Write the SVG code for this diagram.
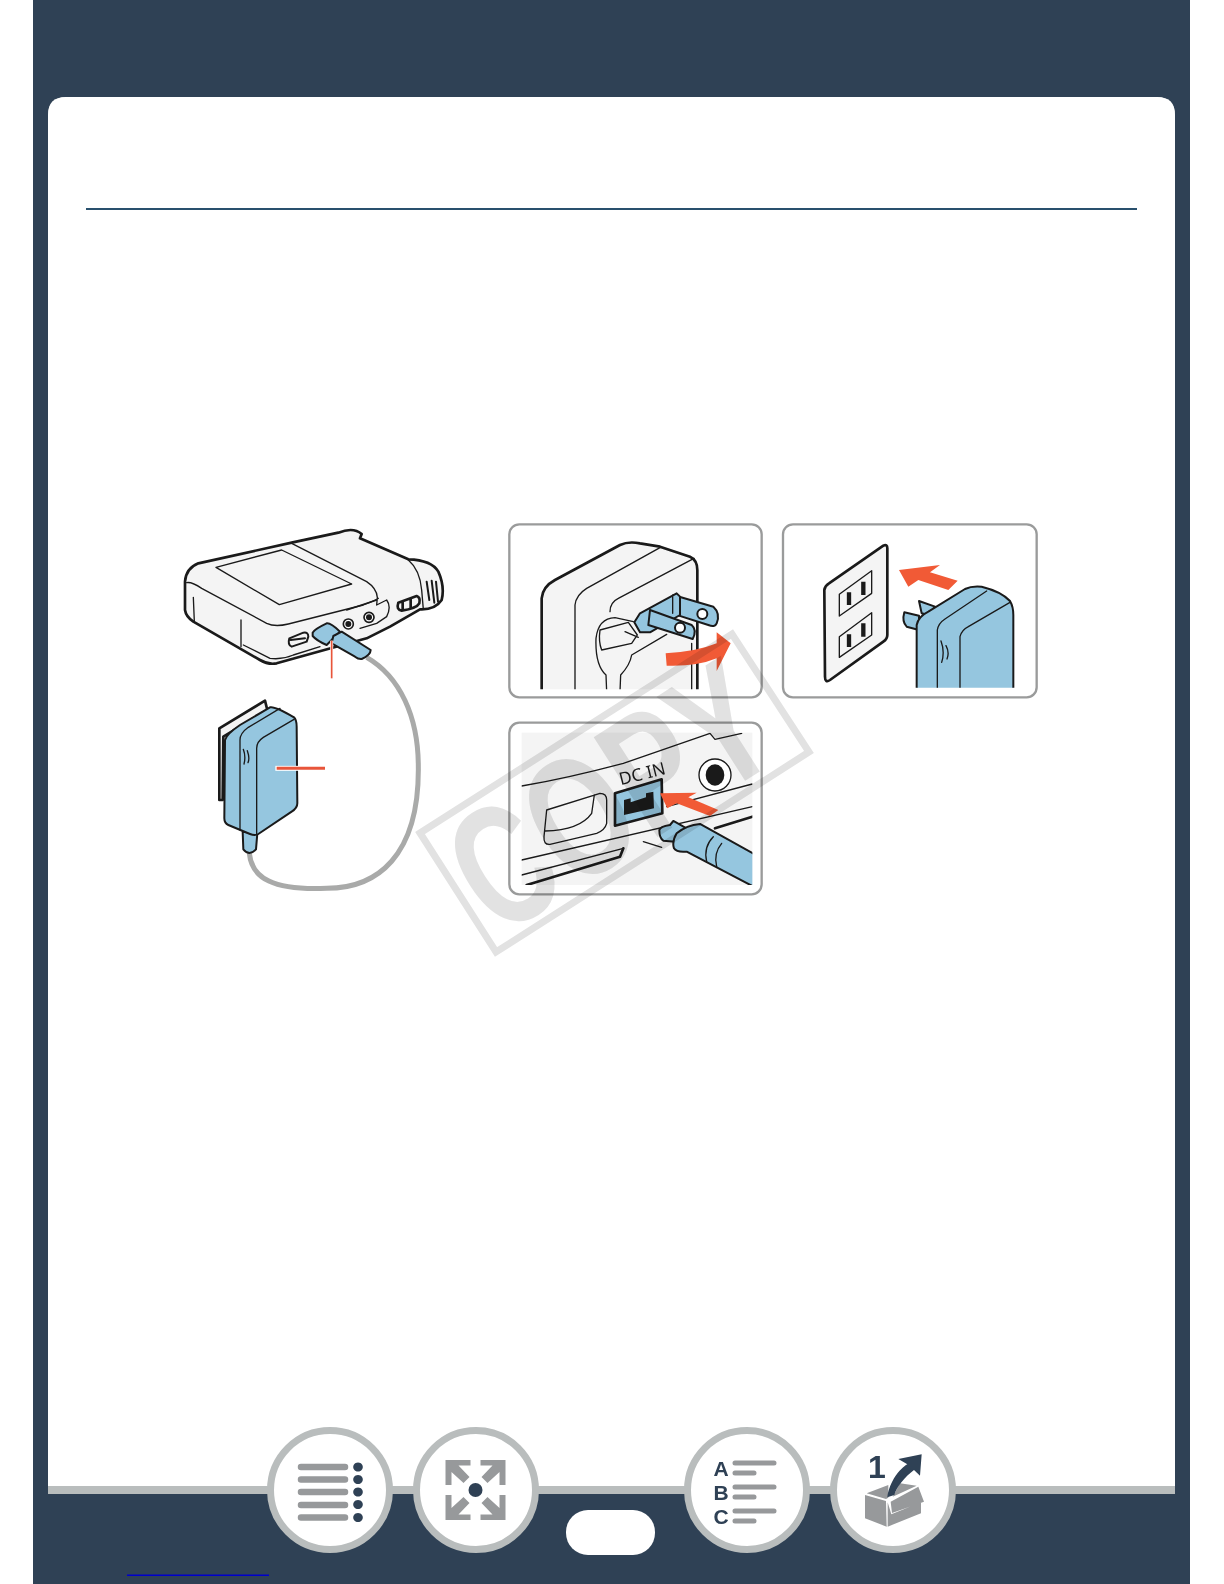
<svg xmlns="http://www.w3.org/2000/svg" width="1224" height="1584" viewBox="0 0 1224 1584">
<style>
.k{fill:none;stroke:#1a1a1a;stroke-linejoin:round;stroke-linecap:round}
.w3{stroke-width:4}.w4{stroke-width:6}.w6{stroke-width:8}
.body{fill:#f4f4f4;stroke:#1a1a1a;stroke-width:8;stroke-linejoin:round}
.blue{fill:#95c6df;stroke:#1a1a1a;stroke-width:6;stroke-linejoin:round}
.or{fill:#f15a36}
.frame{fill:#fff;stroke:#9a9b9b;stroke-width:7}
.ring{fill:#fff;stroke:#b9bdbd;stroke-width:7}
.ig{fill:#97999b}
.dk{fill:#2f4155}
.bar{stroke:#97999b;stroke-linecap:round;fill:none}
.let{font-family:"Liberation Sans",Arial,sans-serif;font-weight:bold;fill:#2f4155}
</style>
<defs>
<clipPath id="c1"><rect x="40" y="40" width="735" height="483"/></clipPath>
<clipPath id="c2"><rect x="40" y="40" width="735" height="478"/></clipPath>
<clipPath id="c3"><rect x="65" y="68" width="692" height="457"/></clipPath>
<polygon id="corner" points="-30,-30 -5,-30 -5,-24.500 -17,-24.500 -6,-13 -12,-7 -24,-18 -24,-5 -30,-5"/>
</defs>
<rect width="1224" height="1584" fill="#fff"/>
<g id="page">
<rect x="33" y="0" width="1157" height="1584" fill="#2f4155"/>
<path d="M48 1494V115Q48 97 66 97H1157Q1175 97 1175 115V1494Z" fill="#b9bdbd"/>
<path d="M48 1486V115Q48 97 66 97H1157Q1175 97 1175 115V1486Z" fill="#fff"/>
<rect x="86" y="208" width="1051" height="2" fill="#29506d"/>
<rect x="127" y="1574.500" width="142" height="1.500" fill="#0000cc"/>
</g>
<g id="camera-illustration" transform="translate(160 510) scale(.33333)">
<path d="M620 442C720 500 775 620 775 770C778 1040 650 1135 500 1135C340 1142 275 1105 268 1030" fill="none" stroke="#a9aaa9" stroke-width="15"/>
<path class="body" d="M75 215Q78 175 115 160L395 98L535 68Q580 50 605 72L600 85L745 148Q815 150 835 185Q855 230 845 270Q825 300 780 298L690 350L620 385L350 460Q325 465 300 450L100 335Q78 320 75 300Z"/>
<path class="k w3" d="M80 218Q95 215 125 235L320 340Q345 352 385 342L610 285Q650 270 655 265M395 100L620 215Q650 235 652 262L650 285L680 270Q695 290 680 320L650 340L600 355"/>
<path class="k w3" d="M168 172L365 120L575 222L358 284ZM100 262L103 335M243 330V410M250 405L330 445Q365 450 400 435L480 410M745 150Q780 180 785 240L790 298M560 300L650 270"/>
<path class="k w4" d="M800 215L808 270M815 212L823 278M828 215L834 275"/>
<path class="k w4" d="M388 385L430 368Q445 365 445 380L440 395L395 410Q382 405 388 385ZM392 390L435 385"/>
<path class="k w6" d="M715 278L770 258Q782 262 778 280Q770 295 725 302Q708 300 715 278ZM728 275V300M752 268V294"/>
<circle cx="565" cy="342" r="15" fill="#fff" stroke="#1a1a1a" stroke-width="5"/><circle cx="565" cy="342" r="9" fill="#1a1a1a"/>
<circle cx="627" cy="322" r="15" fill="#fff" stroke="#1a1a1a" stroke-width="5"/><circle cx="627" cy="322" r="9" fill="#1a1a1a"/>
<path class="blue" d="M458 368Q462 358 500 340Q512 338 540 365L520 385L500 405Q470 392 458 378Z"/>
<path class="blue" d="M520 378L545 365L632 420Q632 435 605 447Q595 448 585 440L515 400Z"/>
<path class="body" d="M178 655L315 572L322 600L190 680L188 870L178 870Z"/>
<path class="blue" d="M248 965L250 1018Q268 1040 288 1018L292 970Z"/>
<path class="blue" d="M195 690Q200 672 240 645L330 592Q345 588 402 622Q410 630 410 650L412 880Q412 895 395 905L295 972Q285 978 270 972L205 945Q193 940 193 925Z"/>
<path class="k w3" d="M240 960V690Q240 670 265 652L360 595M290 972V715Q290 695 310 682L402 628M250 718Q258 740 252 762M262 722Q270 745 264 758"/>
<path d="M515 392V450" stroke="#fff" stroke-width="9"/><path d="M515 392V505" stroke="#e8553a" stroke-width="5"/>
<path d="M346 775H420" stroke="#fff" stroke-width="15"/><path d="M350 775H495" stroke="#e8553a" stroke-width="9"/>
</g>
<g id="panel-1" transform="translate(500 515) scale(.33333)">
<rect class="frame" x="28" y="28" width="757" height="519" rx="30"/>
<g clip-path="url(#c1)">
<path class="body" d="M125 540V250Q128 215 165 195L360 90Q385 78 420 85L480 95L570 125Q592 135 592 165V540Z"/>
<path class="k w3" d="M225 530V270Q228 240 260 220L480 98M330 290Q330 262 355 250L582 130M575 530V385M320 530L318 480Q285 450 288 370Q295 310 345 308L400 320M360 530L362 480Q390 450 395 420L500 358"/>
<path class="k w3" d="M300 345L385 322L412 360L395 385L305 405Q295 380 300 345ZM375 350L415 367"/>
<path class="blue" d="M520 240L640 275Q662 295 650 325Q645 338 625 330L525 298Z"/>
<circle cx="607" cy="297" r="15" fill="#fff" stroke="#1a1a1a" stroke-width="6"/>
<path class="blue" d="M403 322L420 295L530 235L540 245V300L450 352L420 352Z"/>
<path class="blue" d="M450 285L575 330Q592 345 578 372L445 330Z"/>
<circle cx="540" cy="338" r="15" fill="#fff" stroke="#1a1a1a" stroke-width="6"/>
<path class="k w3" d="M518 245V295"/>
</g>
<path class="or" d="M497 415Q590 410 650 385V352L692 385L650 468V430Q590 455 500 452Z"/>
</g>
<g id="panel-2" transform="translate(775 515) scale(.33333)">
<rect class="frame" x="24" y="28" width="761" height="519" rx="30"/>
<path class="body" d="M148 225Q150 212 162 205L325 92Q337 86 337 100V360Q337 372 325 380L165 495Q150 505 150 485Z"/>
<path class="k w3" d="M193 238L290 167V235L193 303ZM193 365L290 293V360L193 427Z"/>
<path d="M222 232V270M265 200V240M222 358V396M265 325V365" stroke="#1a1a1a" stroke-width="13" fill="none"/>
<path class="or" d="M548 197L520 225L430 195L400 215L372 165L495 150L465 172Z"/>
<g clip-path="url(#c2)">
<path class="blue" d="M432 258L480 275L460 300L440 295Z"/>
<path class="blue" d="M388 292L432 302V345L395 335Q380 320 388 292Z"/>
<path class="blue" d="M425 530V330Q430 305 460 290L570 222Q590 212 620 215Q680 230 705 258Q715 275 715 300V530Z"/>
<path class="k w3" d="M487 530V345Q490 325 510 312L635 228M555 530V365Q560 345 580 335L705 262M498 378Q510 410 500 442M513 392Q524 412 516 432"/>
</g>
</g>
<g id="panel-3" transform="translate(500 710) scale(.33333)">
<rect class="frame" x="28" y="38" width="757" height="515" rx="30"/>
<rect x="65" y="68" width="692" height="457" fill="#f4f4f4"/>
<g clip-path="url(#c3)">
<path class="k w3" d="M65 228Q200 205 370 160L630 70L645 88L725 70"/>
<path class="k w3" d="M140 300L300 250Q320 250 320 270V340Q315 360 290 370L150 403Q130 405 132 380ZM135 363Q240 360 275 310L283 255"/>
<ellipse cx="645" cy="195" rx="48" ry="48" fill="#fff" stroke="#1a1a1a" stroke-width="4"/>
<ellipse cx="645" cy="195" rx="28" ry="32" fill="#1a1a1a"/>
<path class="k w3" d="M65 450L757 290M65 495L370 415M430 395L485 412M500 290L757 222"/>
<path class="k w6" d="M370 415L360 440L80 525M645 355L757 320"/>
<path d="M345 250L485 208L487 310L345 347Z" fill="#95c6df" stroke="#1a1a1a" stroke-width="8" stroke-linejoin="round"/>
<path d="M372 270L392 265V277L438 262V250L460 245L462 295L372 315Z" fill="#1a1a1a"/>
<path class="or" d="M480 250L590 248L565 262L655 300L630 318L530 280L502 295Z"/>
<path class="blue" d="M478 360Q480 350 510 345L520 333L565 358L525 395L490 392Q478 385 478 360Z"/>
<path class="blue" d="M530 370Q560 345 600 342L780 442V540L560 425Q530 428 522 415Q515 395 530 370Z"/>
<path class="k w3" d="M640 380Q610 410 620 455M665 400Q640 430 650 470"/>
</g>
<text x="0" y="0" transform="translate(362 226) rotate(-14)" font-family="'Noto Sans','Open Sans',sans-serif" font-size="52" fill="#1a1a1a">DC IN</text>
</g>
<g id="copy-stamp" style="mix-blend-mode:multiply">
<polygon points="420,833 732,634 809,752 496,952" fill="none" stroke="#e2e2e2" stroke-width="7"/>
<text transform="translate(610 796) rotate(-32.600)" y="60" text-anchor="middle" font-family="'Liberation Sans',Arial,sans-serif" font-weight="bold" font-size="172" fill="#e2e2e2" textLength="342" lengthAdjust="spacingAndGlyphs">COPY</text>
</g>
<g id="nav">
<g id="btn-contents">
<circle class="ring" cx="330" cy="1490" r="59.500"/>
<path class="bar" stroke-width="6.500" d="M301 1467H345M301 1479.500H345M301 1492H345M301 1505H345M301 1517.500H345"/>
<path class="dk" d="M358 1462.500a4.800 4.500 0 1 0 .01 0M358 1475a4.800 4.500 0 1 0 .01 0M358 1487.500a4.800 4.500 0 1 0 .01 0M358 1500a4.800 4.500 0 1 0 .01 0M358 1513a4.800 4.500 0 1 0 .01 0"/>
</g>
<g id="btn-fit">
<circle class="ring" cx="476" cy="1490" r="59.500"/>
<use href="#corner" class="ig" transform="translate(475.500 1490)"/>
<use href="#corner" class="ig" transform="translate(475.500 1490) scale(-1 1)"/>
<use href="#corner" class="ig" transform="translate(475.500 1490) scale(1 -1)"/>
<use href="#corner" class="ig" transform="translate(475.500 1490) scale(-1 -1)"/>
<circle class="dk" cx="475.500" cy="1490" r="7"/>
</g>
<rect id="page-pill" x="566" y="1510" width="89" height="45" rx="22" fill="#fff"/>
<g id="btn-index">
<circle class="ring" cx="747" cy="1490" r="59.500"/>
<text class="let" x="721" y="1475.500" font-size="21" text-anchor="middle">A</text>
<text class="let" x="721" y="1499.500" font-size="21" text-anchor="middle">B</text>
<text class="let" x="721" y="1524" font-size="21" text-anchor="middle">C</text>
<path class="bar" stroke-width="5" d="M735 1463H774M735 1473H754M735 1487H774M735 1497H754M735 1511H774M735 1521H754"/>
</g>
<g id="btn-start">
<circle class="ring" cx="893" cy="1490" r="59.500"/>
<text class="let" x="877" y="1478" font-size="32" text-anchor="middle">1</text>
<g transform="translate(850 1445) scale(.33333)">
<path class="ig" d="M45 150L108 168L110 245L45 220ZM113 172L124 208L213 172V205L113 245ZM122 170L205 125L222 170L126 204ZM50 145L115 120V158L108 162ZM130 152L150 115L200 122L128 155Z"/>
<path class="dk" d="M112 157C118 110 150 70 172 58L145 42L215 28L210 92L192 75C165 95 140 125 133 150Z"/>
</g>
</g>
</g>
</svg>
